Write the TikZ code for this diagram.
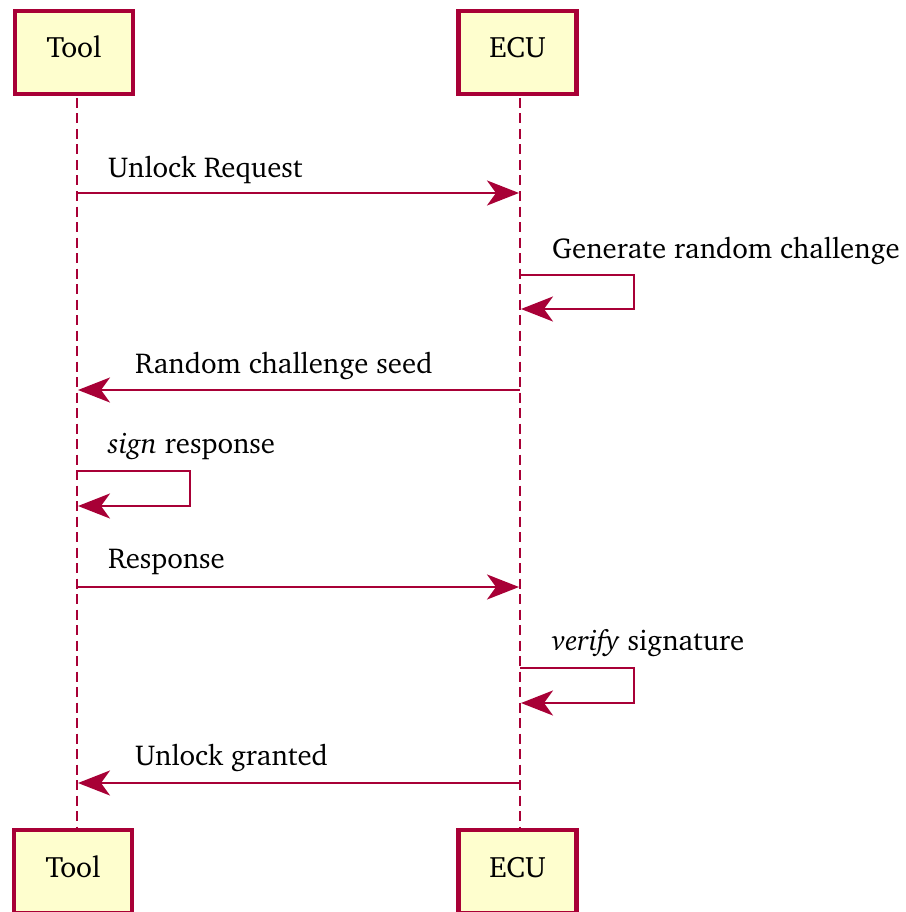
\documentclass[tikz,border=0pt]{standalone}
\usepackage[T1]{fontenc}
\renewcommand{\rmdefault}{bch}
\usetikzlibrary{arrows.meta}
\definecolor{umlred}{HTML}{A80036}
\definecolor{umlfill}{HTML}{FEFECE}
\tikzset{
  actor/.style={draw=umlred, fill=umlfill, line width=4.4pt, minimum width=118pt,
    minimum height=83pt, inner sep=0pt, text height=18pt, text depth=7pt,
    font=\fontsize{29.5}{35}\selectfont},
  lifeline/.style={draw=umlred, line width=2.8pt, dash pattern=on 10pt off 5.5pt},
  msg/.style={draw=umlred, line width=2.6pt,
    -{Stealth[length=32pt, width=25pt, inset=9pt, fill=umlred]}},
  msglabel/.style={anchor=base west, inner sep=0pt, font=\fontsize{28.8}{34}\selectfont}
}
\begin{document}
\begin{tikzpicture}[x=1pt, y=-1pt]
  \clip (0,0) rectangle (905,912);
  \useasboundingbox (0,0) rectangle (905,912);

  % lifelines
  \coordinate (toolTop) at (77,98);
  \coordinate (toolBot) at (77,828);
  \coordinate (ecuTop) at (520,98);
  \coordinate (ecuBot) at (520,828);
  \draw[lifeline] (toolTop) -- (toolBot);
  \draw[lifeline] (ecuTop) -- (ecuBot);

  % participant boxes
  \node[actor] (toolHead) at (74,52.5) {Tool};
  \node[actor] (ecuHead) at (517.5,52.5) {ECU};
  \node[actor] (toolFoot) at (73,871.5) {Tool};
  \node[actor] (ecuFoot) at (517.5,871.5) {ECU};

  % 1: Unlock Request
  \coordinate (m1s) at (77,193);
  \coordinate (m1e) at (519,193);
  \draw[msg] (m1s) -- (m1e);
  \node[msglabel] (l1) at (108,178) {Unlock Request};

  % 2: Generate random challenge (self)
  \coordinate (m2s) at (520,275);
  \coordinate (m2e) at (521,309);
  \coordinate (m2r) at (634,292);
  \draw[msg] (m2s) -| (m2r) |- (m2e);
  \node[msglabel] (l2) at (552,258) {Generate random challenge};

  % 3: Random challenge seed
  \coordinate (m3s) at (520,390);
  \coordinate (m3e) at (78,390);
  \draw[msg] (m3s) -- (m3e);
  \node[msglabel] (l3) at (135,373) {Random challenge seed};

  % 4: sign response (self)
  \coordinate (m4s) at (77,471);
  \coordinate (m4e) at (78,506);
  \coordinate (m4r) at (190,488);
  \draw[msg] (m4s) -| (m4r) |- (m4e);
  \node[msglabel] (l4) at (108,453) {\textit{sign} response};

  % 5: Response
  \coordinate (m5s) at (77,587);
  \coordinate (m5e) at (519,587);
  \draw[msg] (m5s) -- (m5e);
  \node[msglabel] (l5) at (108,568) {Response};

  % 6: verify signature (self)
  \coordinate (m6s) at (520,668);
  \coordinate (m6e) at (521,703);
  \coordinate (m6r) at (634,685);
  \draw[msg] (m6s) -| (m6r) |- (m6e);
  \node[msglabel] (l6) at (552,650) {\textit{verify} signature};

  % 7: Unlock granted
  \coordinate (m7s) at (520,783);
  \coordinate (m7e) at (78,783);
  \draw[msg] (m7s) -- (m7e);
  \node[msglabel] (l7) at (135,765) {Unlock granted};
\end{tikzpicture}
\end{document}
